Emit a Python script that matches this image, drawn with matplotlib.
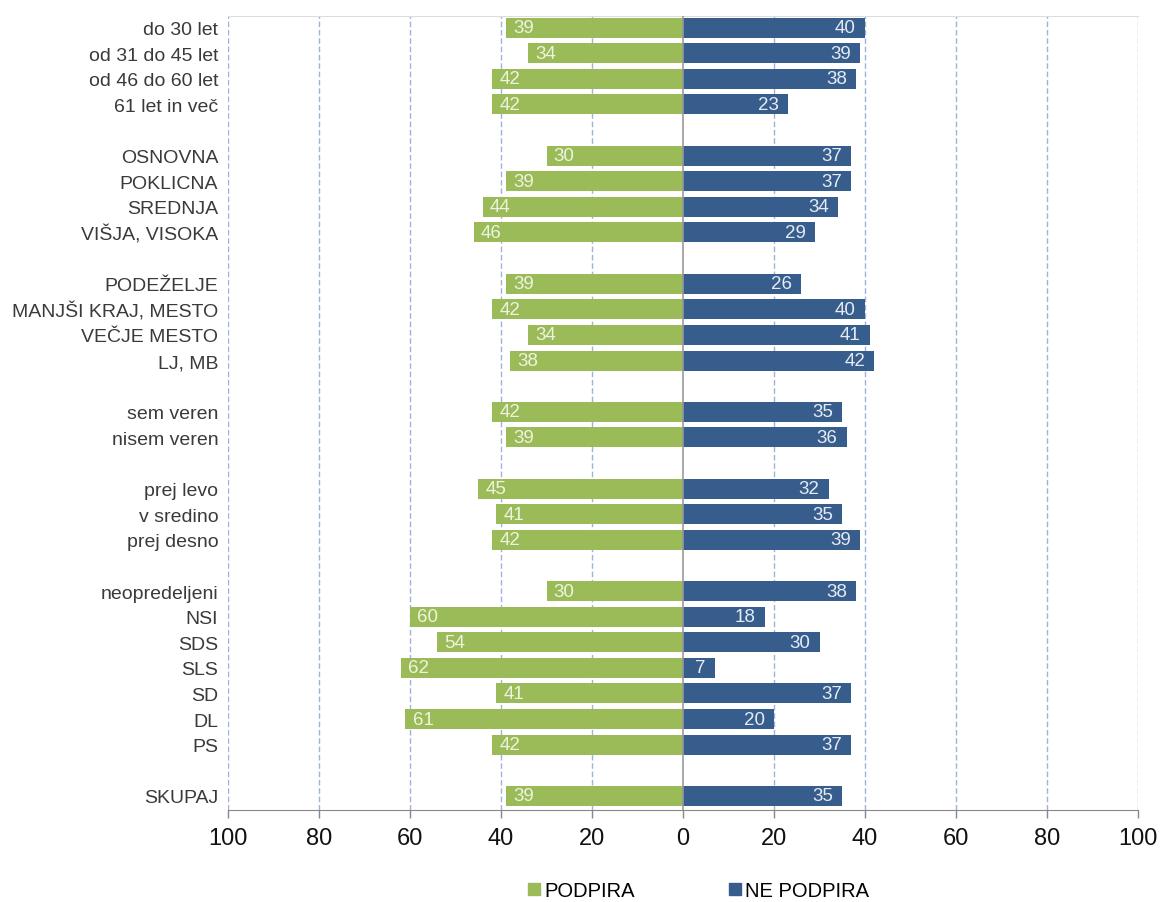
import numpy as np
import matplotlib
matplotlib.use("Agg")
import matplotlib.pyplot as plt
from matplotlib.ticker import FuncFormatter
from matplotlib.lines import Line2D

plt.rcParams["font.family"] = ["Liberation Sans", "DejaVu Sans"]

# groups of categories, gaps between groups
groups = [
    ["do 30 let", "od 31 do 45 let", "od 46 do 60 let", "61 let in več"],
    ["OSNOVNA", "POKLICNA", "SREDNJA", "VIŠJA, VISOKA"],
    ["PODEŽELJE", "MANJŠI KRAJ, MESTO", "VEČJE MESTO", "LJ, MB"],
    ["sem veren", "nisem veren"],
    ["prej levo", "v sredino", "prej desno"],
    ["neopredeljeni", "NSI", "SDS", "SLS", "SD", "DL", "PS"],
    ["SKUPAJ"],
]
podpira = [39, 34, 42, 42,
           30, 39, 44, 46,
           39, 42, 34, 38,
           42, 39,
           45, 41, 42,
           30, 60, 54, 62, 41, 61, 42,
           39]
ne_podpira = [40, 39, 38, 23,
              37, 37, 34, 29,
              26, 40, 41, 42,
              35, 36,
              32, 35, 39,
              38, 18, 30, 7, 37, 20, 37,
              35]

GREEN = "#9bbb59"
BLUE = "#375d8c"

labels = []
ypos = []
y = 0
for g in groups:
    for name in g:
        labels.append(name)
        ypos.append(y)
        y += 1
    y += 1
ypos = np.array(ypos)
pod = np.array(podpira)
ne = np.array(ne_podpira)

fig = plt.figure(figsize=(11.61, 9.03), dpi=100)
ax = fig.add_axes([0.1964, 0.1019, 0.7838, 0.8792])

ax.barh(ypos, -pod, height=0.78, color=GREEN, zorder=3)
ax.barh(ypos, ne, height=0.78, color=BLUE, zorder=3)

for yy, v in zip(ypos, pod):
    ax.text(-v + 1.6, yy, str(v), color="#eef3e0", fontsize=13.5,
            ha="left", va="center", zorder=4)
for yy, v in zip(ypos, ne):
    ax.text(v - 2.0, yy, str(v), color="#e6ebf3", fontsize=13.5,
            ha="right", va="center", zorder=4)

ax.set_xlim(-100, 100)
ax.set_ylim(ypos[-1] + 0.55, -0.45)
ax.set_xticks(np.arange(-100, 101, 20))
ax.xaxis.set_major_formatter(FuncFormatter(lambda v, p: f"{abs(int(v))}"))
ax.tick_params(axis="x", labelsize=17, colors="#111111", length=6,
               width=1, color="#888888", pad=6)
ax.set_yticks(ypos)
ax.set_yticklabels(labels, fontsize=14, color="#3a3a3a")
ax.tick_params(axis="y", length=0, pad=7)

for xv in range(-100, 101, 20):
    if xv == 0:
        continue
    ax.axvline(xv, color="#9fb2da", linestyle=(0, (4, 2)), linewidth=1.0,
               zorder=1)
ax.axvline(0, color="#999999", linewidth=1.2, zorder=5)

for s in ["left", "right"]:
    ax.spines[s].set_visible(False)
ax.spines["top"].set_color("#dddddd")
ax.spines["bottom"].set_color("#888888")

handles = [Line2D([], [], marker="s", linestyle="", markersize=9,
                  color=GREEN),
           Line2D([], [], marker="s", linestyle="", markersize=9,
                  color=BLUE)]
fig.legend(handles, ["PODPIRA", "NE PODPIRA"], loc="center",
           bbox_to_anchor=(0.600, 0.013), ncol=2, frameon=False,
           fontsize=14.5, handletextpad=0.0, columnspacing=4.5,
           handlelength=1.0)

fig.savefig("out.png", dpi=100, facecolor="white")
